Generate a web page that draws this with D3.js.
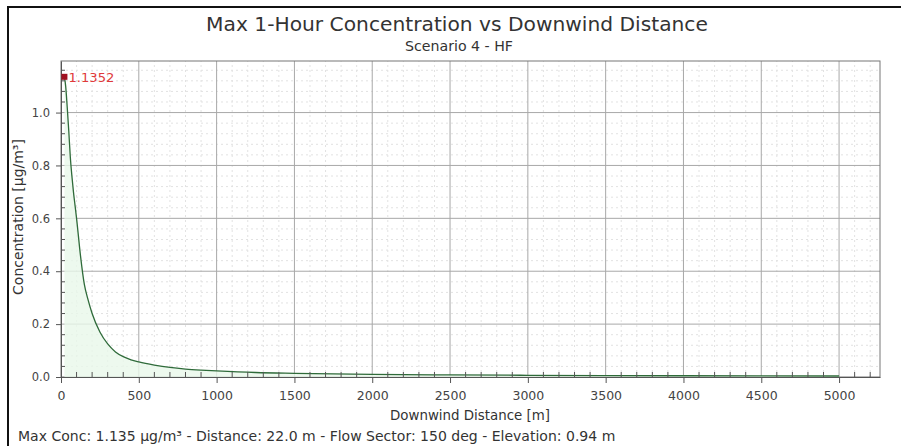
<!DOCTYPE html>
<html>
<head>
<meta charset="utf-8">
<script src="https://cdn.jsdelivr.net/npm/d3@7"></script>
<style>
  body { margin: 0; background: #fff; }
  text { font-family: "DejaVu Sans", Verdana, sans-serif; }
</style>
</head>
<body>
<div id="chart"></div>
<script>
// data
const distances = [22, 30, 40, 50, 60, 70, 80, 90, 100, 125, 150, 175, 200, 250, 300, 350, 400, 450, 500,
    600, 700, 800, 900, 1000, 1250, 1500, 2000, 2500, 3000, 3500, 4000, 4500, 5000];
const concentrations = [1.1352, 1.10, 1.02, 0.93, 0.83, 0.76, 0.70, 0.65, 0.60, 0.46, 0.35, 0.29, 0.24, 0.17,
    0.125, 0.095, 0.077, 0.065, 0.057, 0.045, 0.036, 0.030, 0.026, 0.023, 0.017, 0.014, 0.010, 0.008,
    0.0065, 0.0055, 0.0048, 0.0042, 0.0037];
const xTicks = [0, 500, 1000, 1500, 2000, 2500, 3000, 3500, 4000, 4500, 5000];
const yTicks = [0, 0.2, 0.4, 0.6, 0.8, 1.0];
const maxPoint = { d: 22, c: 1.1352, label: "1.1352" };
const title = "Max 1-Hour Concentration vs Downwind Distance";
const subtitle = "Scenario 4 - HF";
const footer = "Max Conc: 1.135 µg/m³ - Distance: 22.0 m - Flow Sector: 150 deg - Elevation: 0.94 m";

const width = 901, height = 446;
const margin = { top: 61, right: 21, bottom: 69, left: 61 };

const svg = d3.select("#chart").append("svg")
    .attr("width", width)
    .attr("height", height);

// scale a text so it spans the width seen in the reference
function fit(sel, w) {
    const fs = +sel.attr("font-size");
    const cw = sel.node().getComputedTextLength();
    sel.attr("font-size", (fs * w / cw).toFixed(2));
    return sel;
}

// outer frame
svg.append("rect")
    .attr("x", 8).attr("y", 7)
    .attr("width", width).attr("height", height)
    .attr("fill", "none").attr("stroke", "#111").attr("stroke-width", 2);

const x = d3.scaleLinear()
    .domain([0, 5263])
    .range([margin.left, width - margin.right]);

const y = d3.scaleLinear()
    .domain([0, 1.195])
    .range([height - margin.bottom, margin.top]);

// minor grid
const xMinor = d3.range(100, 5263, 100).filter(v => v % 500 !== 0);
const yMinor = d3.range(0.04, 1.19, 0.04).filter(v => Math.abs(v / 0.2 - Math.round(v / 0.2)) > 0.01);

svg.append("g").selectAll("line")
    .data(xMinor)
    .enter().append("line")
    .attr("x1", d => x(d)).attr("x2", d => x(d))
    .attr("y1", y.range()[0]).attr("y2", y.range()[1])
    .attr("stroke", "#e2e2e2").attr("stroke-dasharray", "2,3");

svg.append("g").selectAll("line")
    .data(yMinor)
    .enter().append("line")
    .attr("x1", x.range()[0]).attr("x2", x.range()[1])
    .attr("y1", d => y(d)).attr("y2", d => y(d))
    .attr("stroke", "#e2e2e2").attr("stroke-dasharray", "2,3");

// major grid
svg.append("g").selectAll("line")
    .data(xTicks.slice(1))
    .enter().append("line")
    .attr("x1", d => x(d)).attr("x2", d => x(d))
    .attr("y1", y.range()[0]).attr("y2", y.range()[1])
    .attr("stroke", "#a8a8a8");

svg.append("g").selectAll("line")
    .data(yTicks.slice(1))
    .enter().append("line")
    .attr("x1", x.range()[0]).attr("x2", x.range()[1])
    .attr("y1", d => y(d)).attr("y2", d => y(d))
    .attr("stroke", "#a8a8a8");

// plot frame
svg.append("rect")
    .attr("x", margin.left).attr("y", margin.top)
    .attr("width", width - margin.left - margin.right)
    .attr("height", height - margin.top - margin.bottom)
    .attr("fill", "none").attr("stroke", "#777");

// data
const pts = distances.map((d, i) => ({ d, c: concentrations[i] }));

svg.append("path")
    .datum(pts)
    .attr("fill", "#e9f7ea")
    .attr("opacity", 0.8)
    .attr("d", d3.area().x(p => x(p.d)).y0(y(0)).y1(p => y(p.c)).curve(d3.curveMonotoneX));

svg.append("path")
    .datum(pts)
    .attr("fill", "none")
    .attr("stroke", "#2f6b3a")
    .attr("stroke-width", 1.3)
    .attr("d", d3.line().x(p => x(p.d)).y(p => y(p.c)).curve(d3.curveMonotoneX));

// axes
const xAxis = svg.append("g")
    .attr("transform", `translate(0,${y(0)})`)
    .call(d3.axisBottom(x).tickValues(xTicks).tickSize(6).tickPadding(5).tickSizeOuter(0).tickFormat(d3.format("d")));
xAxis.select(".domain").attr("stroke", "#555");
xAxis.selectAll(".tick line").attr("stroke", "#555");
xAxis.selectAll("text").attr("font-size", 12.5).attr("fill", "#444").attr("dy", "0.95em");

svg.append("g").selectAll("line")
    .data(xMinor)
    .enter().append("line")
    .attr("x1", d => x(d)).attr("x2", d => x(d))
    .attr("y1", y(0)).attr("y2", y(0) - 5)
    .attr("stroke", "#555");

const yAxis = svg.append("g")
    .attr("transform", `translate(${x(0)},0)`)
    .call(d3.axisLeft(y).tickValues(yTicks).tickSize(5).tickPadding(6).tickSizeOuter(0).tickFormat(d3.format(".1f")));
yAxis.select(".domain").attr("stroke", "#555");
yAxis.selectAll(".tick line").attr("stroke", "#555");
yAxis.selectAll("text").attr("font-size", 11.5).attr("fill", "#444");

svg.append("g").selectAll("line")
    .data(yMinor)
    .enter().append("line")
    .attr("x1", x(0)).attr("x2", x(0) + 4)
    .attr("y1", d => y(d)).attr("y2", d => y(d))
    .attr("stroke", "#555");

// max marker
svg.append("rect")
    .attr("x", x(maxPoint.d) - 3).attr("y", y(maxPoint.c) - 3)
    .attr("width", 6).attr("height", 6)
    .attr("fill", "#a01020");
fit(svg.append("text")
    .attr("x", x(maxPoint.d) + 4).attr("y", y(maxPoint.c) + 5)
    .attr("font-size", 12).attr("fill", "#e03a3a")
    .text(maxPoint.label), 46);

// titles
fit(svg.append("text")
    .attr("x", 457).attr("y", 31)
    .attr("text-anchor", "middle").attr("font-size", 18).attr("fill", "#333")
    .text(title), 502);
fit(svg.append("text")
    .attr("x", 459).attr("y", 51)
    .attr("text-anchor", "middle").attr("font-size", 10).attr("fill", "#333")
    .text(subtitle), 108);

fit(svg.append("text")
    .attr("x", 470).attr("y", 420)
    .attr("text-anchor", "middle").attr("font-size", 12).attr("fill", "#333")
    .text("Downwind Distance [m]"), 160);

fit(svg.append("text")
    .attr("transform", `translate(23,${(y(0) + y(1.195)) / 2 - 2}) rotate(-90)`)
    .attr("text-anchor", "middle").attr("font-size", 12).attr("fill", "#333")
    .text("Concentration [µg/m³]"), 156);

fit(svg.append("text")
    .attr("x", 18).attr("y", 441)
    .attr("font-size", 12).attr("fill", "#333")
    .text(footer), 598);
</script>
</body>
</html>
